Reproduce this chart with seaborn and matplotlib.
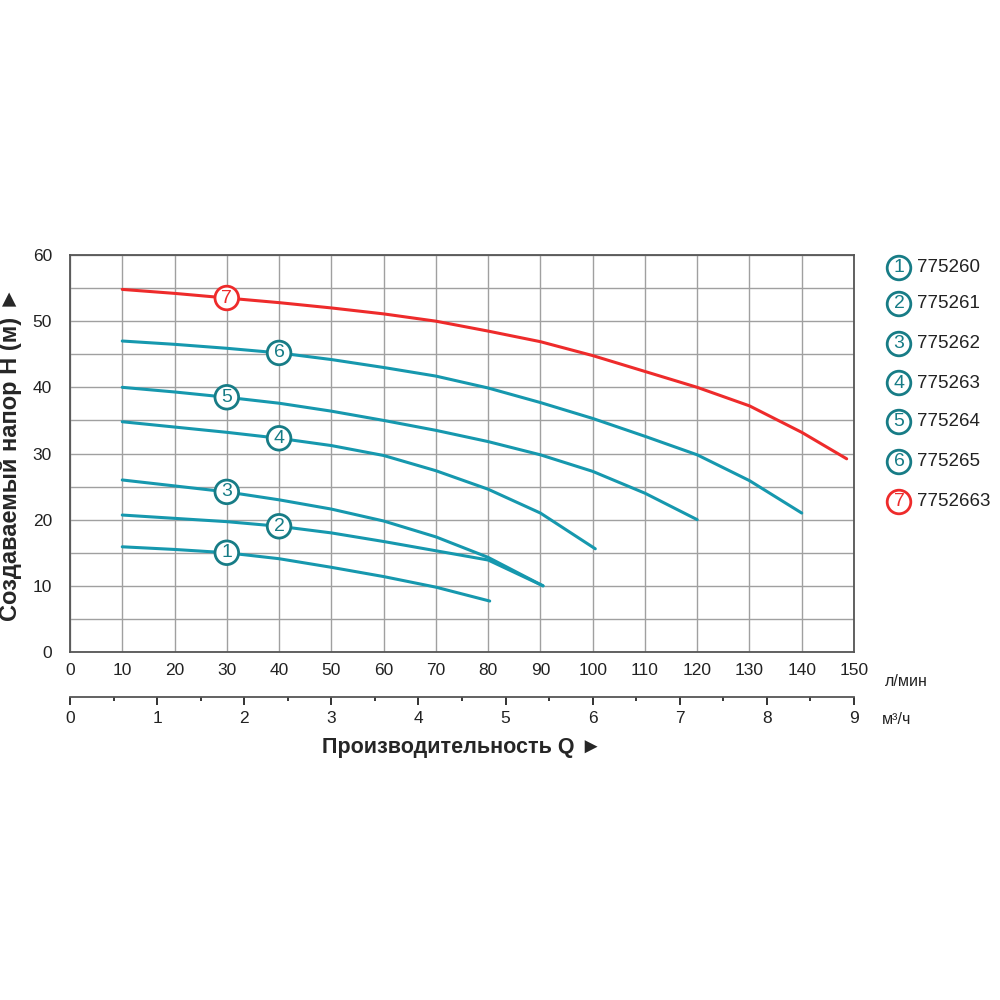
import matplotlib
matplotlib.use("Agg")
import matplotlib.pyplot as plt
import seaborn as sns
import pandas as pd

# расход, л/мин / напор, м
q1 = [10, 20, 30, 40, 50, 60, 70, 80.3]
h1 = [15.9, 15.5, 15.0, 14.1, 12.8, 11.4, 9.8, 7.7]
q2 = [10, 20, 30, 40, 50, 60, 70, 80, 90.5]
h2 = [20.7, 20.2, 19.7, 19.0, 18.0, 16.7, 15.3, 13.9, 10.0]
q3 = [10, 20, 30, 40, 50, 60, 70, 80, 90.5]
h3 = [26.0, 25.1, 24.2, 23.0, 21.6, 19.8, 17.4, 14.3, 10.0]
q4 = [10, 20, 30, 40, 50, 60, 70, 80, 90, 100.5]
h4 = [34.8, 34.0, 33.2, 32.3, 31.2, 29.7, 27.4, 24.6, 21.0, 15.6]
q5 = [10, 20, 30, 40, 50, 60, 70, 80, 90, 100, 110, 120]
h5 = [40.0, 39.3, 38.5, 37.6, 36.4, 35.0, 33.5, 31.8, 29.8, 27.3, 24.0, 20.0]
q6 = [10, 20, 30, 40, 50, 60, 70, 80, 90, 100, 110, 120, 130, 140]
h6 = [47.0, 46.5, 45.9, 45.2, 44.2, 43.0, 41.7, 39.9, 37.7, 35.3, 32.6, 29.8, 25.9, 21.0]
q7 = [10, 20, 30, 40, 50, 60, 70, 80, 90, 100, 110, 120, 130, 140, 148.6]
h7 = [54.8, 54.2, 53.5, 52.8, 52.0, 51.1, 50.0, 48.5, 46.9, 44.8, 42.4, 40.0, 37.2, 33.2, 29.2]

models = ["775260", "775261", "775262", "775263", "775264", "775265", "7752663"]
labels = ["1", "2", "3", "4", "5", "6", "7"]
# where the number badge sits on each curve
badge_q = [30, 40, 30, 40, 30, 40, 30]

curves = [(q1, h1), (q2, h2), (q3, h3), (q4, h4), (q5, h5), (q6, h6), (q7, h7)]
rows = []
for lab, (qs, hs) in zip(labels, curves):
    for q, h in zip(qs, hs):
        rows.append({"curve": lab, "Q": q, "H": h})
df = pd.DataFrame(rows)

teal = "#1698ae"
teal_dark = "#177c86"
red = "#ee2b2b"
palette = {l: teal for l in labels[:6]}
palette["7"] = red

sns.set_style("white")
plt.rcParams["font.family"] = ["Liberation Sans", "DejaVu Sans"]

fig = plt.figure(figsize=(10, 10), dpi=100)
ax = fig.add_axes([0.07, 0.348, 0.784, 0.397])

sns.lineplot(data=df, x="Q", y="H", hue="curve", palette=palette,
             legend=False, linewidth=2.2, ax=ax, sort=False)

# number badges on curves
for lab, (qs, hs), bq in zip(labels, curves, badge_q):
    bh = hs[qs.index(bq)]
    ec = red if lab == "7" else teal_dark
    ax.text(bq, bh, lab, ha="center", va="center", fontsize=14,
            color=ec, zorder=5,
            bbox=dict(boxstyle="circle,pad=0.17", fc="white", ec=ec, lw=2.0))

ax.set_xlim(0, 150)
ax.set_ylim(0, 60)
ax.set_xticks(range(0, 151, 10))
ax.set_yticks(range(0, 61, 10))
ax.set_yticks(range(5, 60, 10), minor=True)
ax.grid(True, which="both", color="#a0a0a0", linewidth=1.0)
ax.tick_params(axis="both", which="both", length=0, labelsize=12.5, colors="#222222", pad=8)
ax.tick_params(axis="y", pad=13)
for s in ax.spines.values():
    s.set_color("#555555")
    s.set_linewidth(1.3)
ax.set_xlabel("")
ax.set_ylabel("Создаваемый напор H (м) ►", fontsize=17, fontweight="bold")
ax.yaxis.set_label_coords(-0.061, 0.5)

# second axis in m³/h
sec = ax.secondary_xaxis(-0.113, functions=(lambda q: q * 0.06, lambda m: m / 0.06))
sec.set_xticks(range(0, 10))
sec.set_xticks([i + 0.5 for i in range(9)], minor=True)
sec.tick_params(axis="x", which="major", length=6, width=1.3, labelsize=12.5,
                colors="#222222", pad=4, direction="out")
sec.tick_params(axis="x", which="minor", length=3, width=1.3, direction="out")
sec.spines["bottom"].set_color("#555555")
sec.spines["bottom"].set_linewidth(1.3)
sec.set_xlabel("Производительность Q ►", fontsize=15.5, fontweight="bold", labelpad=8)

fig.text(0.885, 0.318, "л/мин", fontsize=11.5, color="#222222", va="center")
fig.text(0.882, 0.281, "м³/ч", fontsize=11.5, color="#222222", va="center")

# legend
leg_y = [0.732, 0.696, 0.656, 0.617, 0.578, 0.538, 0.498]
for lab, m, y in zip(labels, models, leg_y):
    ec = red if lab == "7" else teal_dark
    fig.text(0.899, y, lab, ha="center", va="center", fontsize=14, color=ec,
             bbox=dict(boxstyle="circle,pad=0.17", fc="white", ec=ec, lw=2.0))
    fig.text(0.917, y, m, ha="left", va="center", fontsize=13.5, color="#222222")

fig.savefig("out.png", dpi=100, facecolor="white")
